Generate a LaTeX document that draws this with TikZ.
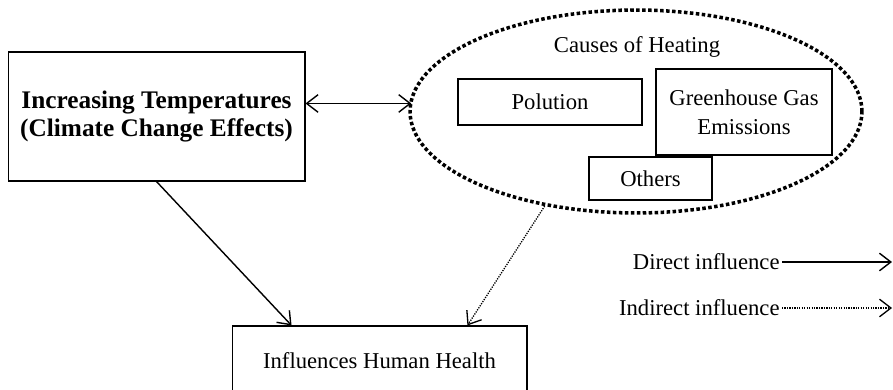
\documentclass[tikz,border=0pt]{standalone}
\usepackage{fontspec}
\setmainfont{Liberation Serif}
\usepackage{tikz}
\usetikzlibrary{positioning, arrows.meta, shapes.geometric}

\tikzset{
  box/.style={draw, line width=0.6pt, inner sep=2pt, align=center, font=\fontsize{12.9}{16.5}\selectfont},
  heading/.style={font=\fontsize{12.9}{16.5}\selectfont},
  lbl/.style={font=\fontsize{12.9}{16.5}\selectfont, inner sep=1pt},
  fine dots/.style={dash pattern=on 0.7pt off 0.7pt, line width=0.75pt},
}

\begin{document}
\begin{tikzpicture}[x=0.02cm, y=-0.02cm, >={Straight Barb[length=6.5pt,width=10pt]}, line width=0.8pt]
\useasboundingbox (0,0) rectangle (893,389);
\clip (0,0) rectangle (893,389);
% main factor
\node[box, minimum width=5.94cm, minimum height=2.58cm,
  font=\fontsize{14.4}{16}\selectfont\bfseries] (temp) at (156.5,116.5)
  {Increasing Temperatures\\(Climate Change Effects)};
% causes (dotted ellipse)
\node[ellipse, draw, line width=2pt, dash pattern=on 2pt off 1.4pt,
  minimum width=9.04cm, minimum height=4.06cm, inner sep=0pt] (causes) at (636,111.5) {};
\node[heading] (title) at (637,47) {Causes of Heating};
\node[box, minimum width=3.68cm, minimum height=0.92cm] (polution) at (550,102) {Polution};
\node[box, minimum width=3.52cm, minimum height=1.72cm] (ghg) at (744,112) {Greenhouse Gas\\Emissions};
\node[box, minimum width=2.46cm, minimum height=0.86cm] (others) at (650.5,178.5) {Others};
% outcome
\node[box, minimum width=5.9cm, minimum height=1.4cm] (health) at (379.5,361) {Influences Human Health};
% connectors
\draw[<->] (temp.5.6) -- ([xshift=0.06cm]temp.5.6 -| causes.west);
\draw[->] (temp.south) -- (health.158);
\draw[->, fine dots] (causes.226) -- (health.22.7);
% legend
\node[lbl, anchor=east] (direct) at (782,262) {Direct influence};
\node[lbl, anchor=east] (indirect) at (782,308) {Indirect influence};
\coordinate (directend) at (892,262);
\coordinate (indirectend) at (892,308);
\draw[->] (direct.east) -- (directend);
\draw[->, fine dots] (indirect.east) -- (indirectend);
\end{tikzpicture}
\end{document}
